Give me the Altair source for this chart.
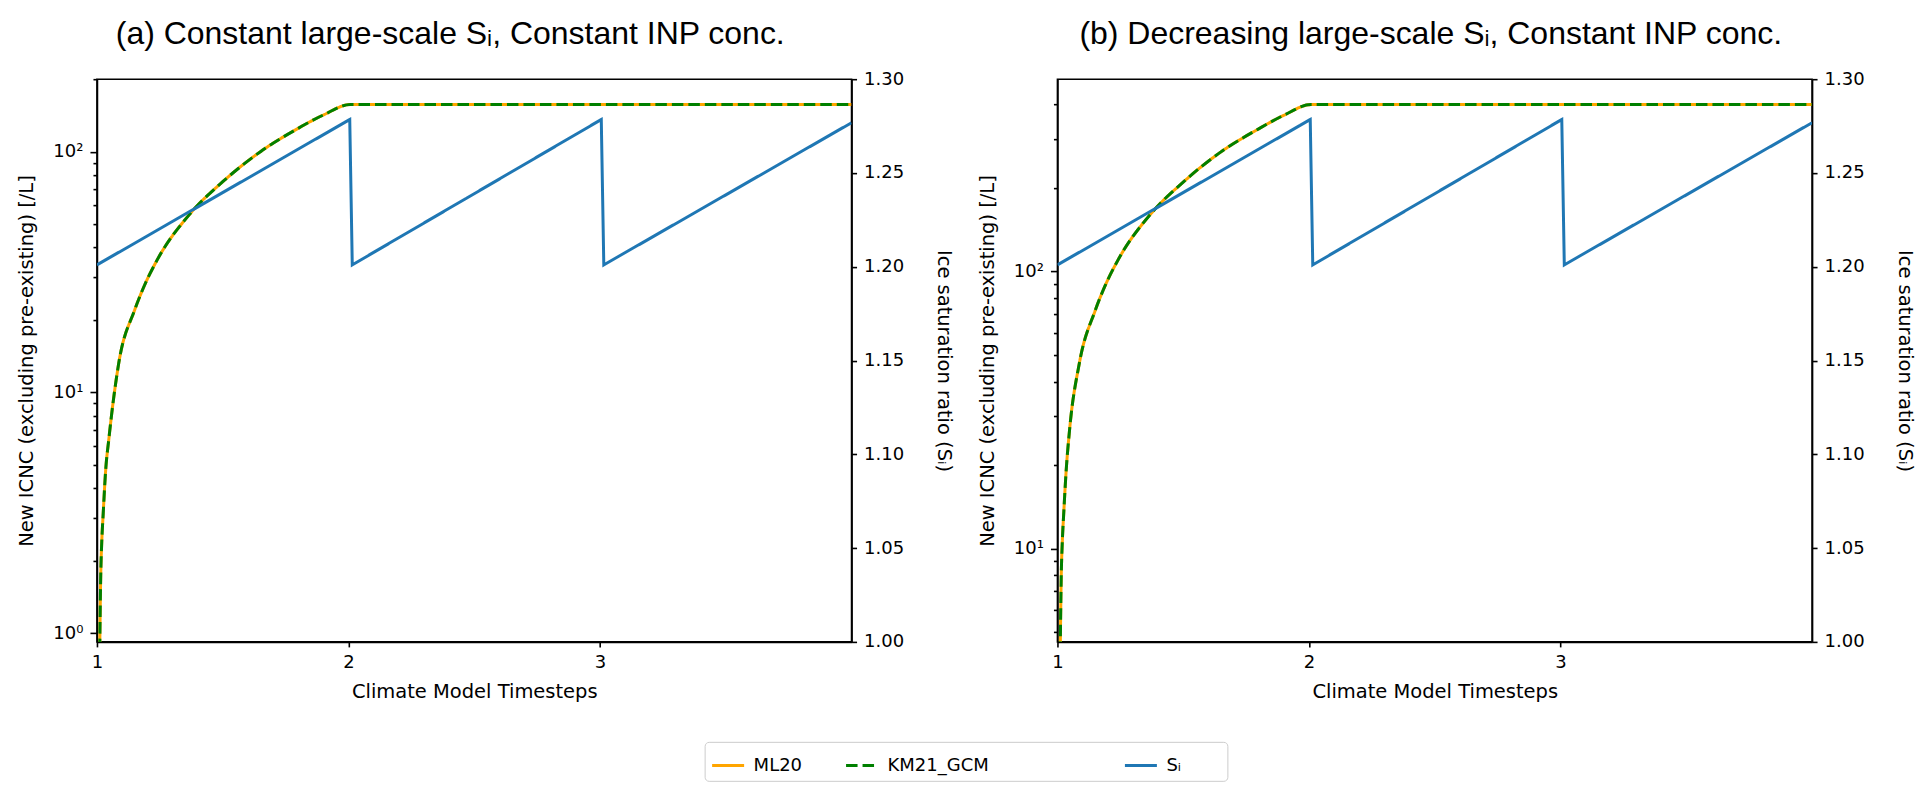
import altair as alt
import pandas as pd

# ---------------- data ----------------
BL = "\u2800"  # blank (non-trimmed) filler that only widens the legend entries
series_names = ["ML20", "KM21_GCM" + BL * 7, "Sᵢ" + BL * 3]
series_colors = ["#ffa500", "#008000", "#1f77b4"]
series_dash = [[1, 0], [11.5, 5], [1, 0]]

x_ticks = [1, 2, 3]

# panel (a)
a_icnc_x = [1.011, 1.015, 1.019, 1.025, 1.034, 1.048, 1.087, 1.15, 1.19, 1.24, 1.372, 1.5, 1.65, 1.8, 1.9, 2.008, 4.0]
a_ml20 = [0.85, 1.73, 2.38, 3.16, 4.65, 6.5, 13.3, 22.0, 28.0, 35.6, 55.5, 75.0, 100.0, 125.0, 142.0, 157.0, 157.0]
a_km21 = [0.85, 1.73, 2.38, 3.16, 4.65, 6.5, 13.3, 22.0, 28.0, 35.6, 55.5, 75.0, 100.0, 125.0, 142.0, 157.0, 157.0]
a_si_x = [1.0, 2.005, 2.015, 3.005, 3.015, 4.0]
a_si = [1.201, 1.2785, 1.201, 1.2785, 1.201, 1.2768]
a_ydomain = [0.92, 200]
a_yticks = [1, 2, 3, 4, 5, 6, 7, 8, 9, 10, 20, 30, 40, 50, 60, 70, 80, 90, 100, 200]

# panel (b)
b_icnc_x = [1.011, 1.015, 1.019, 1.025, 1.034, 1.048, 1.087, 1.15, 1.19, 1.24, 1.372, 1.5, 1.65, 1.8, 1.9, 2.008, 4.0]
b_ml20 = [4.2, 7.9, 10.4, 13.4, 18.7, 26.7, 46.6, 72.2, 89.0, 109.6, 161.6, 210.0, 270.0, 327.0, 366.0, 400.0, 400.0]
b_km21 = [4.2, 7.9, 10.4, 13.4, 18.7, 26.7, 46.6, 72.2, 89.0, 109.6, 161.6, 210.0, 270.0, 327.0, 366.0, 400.0, 400.0]
b_si_x = [1.0, 2.005, 2.015, 3.005, 3.015, 4.0]
b_si = [1.201, 1.2785, 1.201, 1.2785, 1.201, 1.2768]
b_ydomain = [4.6, 494]
b_yticks = [5, 6, 7, 8, 9, 10, 20, 30, 40, 50, 60, 70, 80, 90, 100, 200, 300, 400]

si_ticks = [1.00, 1.05, 1.10, 1.15, 1.20, 1.25, 1.30]

title_a = "(a) Constant large-scale Sᵢ, Constant INP conc."
title_b = "(b) Decreasing large-scale Sᵢ, Constant INP conc."

# ---------------- chart ----------------
leg = alt.Legend(title=None, labelLimit=1000)

color = alt.Color("series:N", scale=alt.Scale(domain=series_names, range=series_colors), legend=leg)
dash = alt.StrokeDash("series:N", scale=alt.Scale(domain=series_names, range=series_dash), legend=leg)

log_label_expr = ("datum.value == 1 ? '10⁰' : datum.value == 10 ? '10¹' : "
                  "datum.value == 100 ? '10²' : ''")
minor_size = {"condition": {"test": "indexof([1, 10, 100, 1000], datum.value) < 0", "value": 4}, "value": 7}


def panel(icnc_x, ml, km, si_x, si, ydom, yticks, title, dx):
    xenc = alt.X("x:Q", scale=alt.Scale(domain=[1, 4], nice=False, zero=False),
                 axis=alt.Axis(values=x_ticks, format="d", labelFlush=False,
                               title="Climate Model Timesteps", titlePadding=11))
    yenc = alt.Y("value:Q",
                 scale=alt.Scale(type="log", domain=ydom, nice=False),
                 axis=alt.Axis(values=yticks, labelExpr=log_label_expr, tickSize=minor_size,
                               title="New ICNC (excluding pre-existing) [/L]", titlePadding=16))
    ml_df = pd.DataFrame({"x": icnc_x, "value": ml, "series": series_names[0]})
    km_df = pd.DataFrame({"x": icnc_x, "value": km, "series": series_names[1]})
    si_df = pd.DataFrame({"x": si_x, "si": si, "series": series_names[2]})
    ml_layer = alt.Chart(ml_df).mark_line(strokeWidth=3, clip=True, interpolate="monotone").encode(
        x=xenc, y=yenc, color=color, strokeDash=dash)
    km_layer = alt.Chart(km_df).mark_line(strokeWidth=3, clip=True, interpolate="monotone").encode(
        x=xenc, y=yenc, color=color, strokeDash=dash)
    si_layer = alt.Chart(si_df).mark_line(strokeWidth=3, clip=True).encode(
        x=xenc,
        y=alt.Y("si:Q", scale=alt.Scale(domain=[1.0, 1.3], nice=False, zero=False),
                axis=alt.Axis(orient="right", values=si_ticks, format=".2f",
                              title="Ice saturation ratio (Sᵢ)", titlePadding=30)),
        color=color, strokeDash=dash)
    left = alt.layer(ml_layer, km_layer)
    return alt.layer(left, si_layer).resolve_scale(y="independent").properties(
        width=755, height=563,
        title=alt.TitleParams(title, font="Liberation Sans", fontSize=32, fontWeight="normal",
                              color="black", anchor="middle", frame="group", offset=19, dx=dx))


pa = panel(a_icnc_x, a_ml20, a_km21, a_si_x, a_si, a_ydomain, a_yticks, title_a, -24)
pb = panel(b_icnc_x, b_ml20, b_km21, b_si_x, b_si, b_ydomain, b_yticks, title_b, -4)

chart = alt.hconcat(pa, pb, spacing=22).resolve_scale(
    color="shared", strokeDash="shared", x="independent", y="independent"
).properties(
    padding={"left": 8, "top": 9, "right": 0, "bottom": 84}
).configure_view(
    stroke="black", strokeWidth=1.6
).configure_axis(
    grid=False, domainColor="black", domainWidth=1.6, tickColor="black", tickWidth=1.6,
    labelFont="DejaVu Sans", labelFontSize=18, labelColor="black", labelPadding=7,
    titleFont="DejaVu Sans", titleFontSize=19.5, titleFontWeight="normal", titleColor="black"
).configure_legend(
    orient="none", legendX=608, legendY=663, direction="horizontal",
    symbolType="stroke", symbolSize=1024, symbolStrokeWidth=3,
    labelFont="DejaVu Sans", labelFontSize=18, labelColor="black", labelOffset=8,
    strokeColor="#cccccc", fillColor="white", padding=6, cornerRadius=4, columnPadding=37
)

chart.save("out.html", embed_options={"renderer": "svg", "actions": False})
